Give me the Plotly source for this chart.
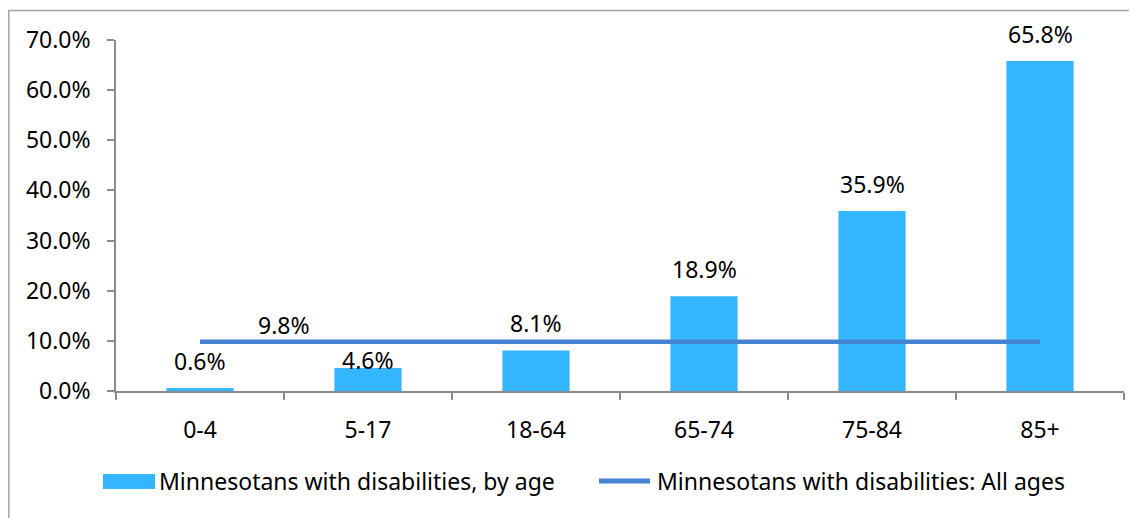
import plotly.graph_objects as go

categories = ["0-4", "5-17", "18-64", "65-74", "75-84", "85+"]
by_age = [0.6, 4.6, 8.1, 18.9, 35.9, 65.8]
all_ages = [9.8, 9.8, 9.8, 9.8, 9.8, 9.8]
all_ages_label = "9.8%"
series_names = ["Minnesotans with disabilities, by age", "Minnesotans with disabilities: All ages"]
y_ticks = [0, 10, 20, 30, 40, 50, 60, 70]
y_tick_text = ["0.0%", "10.0%", "20.0%", "30.0%", "40.0%", "50.0%", "60.0%", "70.0%"]

FONT = "Noto Sans"
FS = 23
BAR = "#33B5FF"
LINE = "#4584D3"
AXIS = "#8C8C8C"

fig = go.Figure()
fig.add_trace(go.Bar(
    x=categories, y=by_age, name=series_names[0],
    marker=dict(color=BAR, line=dict(width=0)), width=0.4, showlegend=False,
))
fig.add_trace(go.Scatter(
    x=categories, y=all_ages, name=series_names[1],
    mode="lines", line=dict(color=LINE, width=4.5), showlegend=False,
))

# bar data labels (label offsets are styling, mimicking the reference placement)
label_shift = {"5-17": 8}
for c, v in zip(categories, by_age):
    fig.add_annotation(x=c, y=v, xref="x", yref="y", text=f"{v:.1f}%",
                       showarrow=False, yanchor="middle", yshift=label_shift.get(c, 27),
                       font=dict(family=FONT, size=FS, color="#000000"))
fig.add_annotation(x=0.5, y=all_ages[0], xref="x", yref="y", text=all_ages_label,
                   showarrow=False, yanchor="middle", yshift=17,
                   font=dict(family=FONT, size=FS, color="#000000"))

W, H = 1137, 518
OFF = 8  # page body margin
L, R, T, B = 116 - OFF, 21, 40 - OFF, 135
pw, ph = W - L - R, H - T - B
def px(x):
    return (x - L - OFF) / pw
def py(y):
    return (H - B - (y - OFF)) / ph

# chart border
fig.add_shape(type="rect", xref="paper", yref="paper",
              x0=px(8.8), x1=px(1170), y0=py(560), y1=py(10.5),
              line=dict(color="#A6A6A6", width=1.5), fillcolor="rgba(0,0,0,0)", layer="below")

# legend (drawn to match the reference's wide symbols)
LEG_Y = 481
fig.add_shape(type="rect", xref="paper", yref="paper",
              x0=px(103), x1=px(155), y0=py(489), y1=py(474),
              line=dict(width=0), fillcolor=BAR)
fig.add_annotation(x=px(157), y=py(LEG_Y), xref="paper", yref="paper", text=series_names[0],
                   showarrow=False, xanchor="left", yanchor="middle",
                   font=dict(family=FONT, size=FS, color="#000000"))
fig.add_shape(type="line", xref="paper", yref="paper",
              x0=px(599), x1=px(650), y0=py(LEG_Y), y1=py(LEG_Y),
              line=dict(color=LINE, width=5))
fig.add_annotation(x=px(655), y=py(LEG_Y), xref="paper", yref="paper", text=series_names[1],
                   showarrow=False, xanchor="left", yanchor="middle",
                   font=dict(family=FONT, size=FS, color="#000000"))

fig.update_layout(
    width=W, height=H,
    margin=dict(l=L, r=R, t=T, b=B, autoexpand=False),
    paper_bgcolor="white", plot_bgcolor="white",
    font=dict(family=FONT, size=FS, color="#000000"),
    showlegend=False,
    xaxis=dict(type="category", showline=True, linecolor=AXIS, linewidth=1.5,
               ticks="outside", tickson="boundaries", ticklen=7, tickcolor=AXIS, tickwidth=1.5,
               showgrid=False, ticklabelstandoff=18,
               tickfont=dict(family=FONT, size=FS)),
    yaxis=dict(range=[0, 70], tickvals=y_ticks, ticktext=y_tick_text,
               showline=True, linecolor=AXIS, linewidth=1.5,
               ticks="outside", ticklen=7, tickcolor=AXIS, tickwidth=1.5,
               showgrid=False, zeroline=False, ticklabelstandoff=12,
               tickfont=dict(family=FONT, size=FS)),
)

fig.write_html("out.html")
